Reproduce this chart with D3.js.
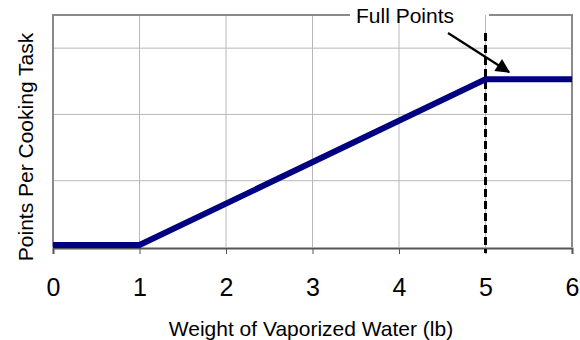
<!DOCTYPE html>
<html>
<head>
<meta charset="utf-8">
<script src="https://cdn.jsdelivr.net/npm/d3@7"></script>
<style>
  html, body { margin: 0; padding: 0; background: #fff; }
  svg { display: block; font-family: "Liberation Sans", Arial, sans-serif; }
</style>
</head>
<body>
<svg id="chart" width="580" height="340"></svg>
<script>
// Scoring curve: points earned vs. weight of water vaporized
const weights = [0, 1, 5, 6];
const points = [0, 0, 2.5, 2.5];
const xTicks = [0, 1, 2, 3, 4, 5, 6];
const yGrid = [1, 2, 3];
const fullPointsWeight = 5;
const calloutLabel = "Full Points";
const xTitle = "Weight of Vaporized Water (lb)";
const yTitle = "Points Per Cooking Task";

const svg = d3.select("#chart");
const plotLeft = 53, plotRight = 572, plotTop = 15, plotBottom = 247;

const x = d3.scaleLinear().domain([0, 6]).range([plotLeft, plotRight]);
const y = d3.scaleLinear().domain([0, 3.5]).range([plotBottom, plotTop]);

// gridlines
svg.append("g").selectAll("line").data(xTicks.slice(1, -1)).join("line")
  .attr("x1", d => x(d)).attr("x2", d => x(d))
  .attr("y1", y(3.5)).attr("y2", y(0))
  .attr("stroke", "#b8b8b8").attr("stroke-width", 1);
svg.append("g").selectAll("line").data(yGrid).join("line")
  .attr("x1", x(0)).attr("x2", x(6))
  .attr("y1", d => y(d)).attr("y2", d => y(d))
  .attr("stroke", "#b8b8b8").attr("stroke-width", 1);

// frame: left, right and top (top is broken by the callout label)
const frame = svg.append("g").attr("stroke", "#8a8a8a").attr("stroke-width", 2).attr("fill", "none");
frame.append("line").attr("x1", x(0)).attr("x2", x(0)).attr("y1", y(3.5) - 1).attr("y2", y(0));
frame.append("line").attr("x1", x(6)).attr("x2", x(6)).attr("y1", y(3.5) - 1).attr("y2", y(0));
frame.append("line").attr("x1", x(0)).attr("x2", 350).attr("y1", y(3.5)).attr("y2", y(3.5));
frame.append("line").attr("x1", 489).attr("x2", x(6) + 1).attr("y1", y(3.5)).attr("y2", y(3.5));

// x axis
const xAxis = svg.append("g").attr("transform", `translate(0,${y(0) + 1})`)
  .call(d3.axisBottom(x).tickValues(xTicks).tickSize(6).tickPadding(0).tickFormat(d3.format("d")));
xAxis.select(".domain").attr("stroke", "#555").attr("stroke-width", 2);
xAxis.selectAll(".tick line").attr("stroke", "#555").attr("stroke-width", 1);
xAxis.selectAll(".tick text")
  .attr("y", 48).attr("dy", null)
  .attr("font-size", 25).attr("fill", "#000")
  .attr("font-family", "Liberation Sans, Arial, sans-serif");

// threshold marker at full-points weight
svg.append("line")
  .attr("x1", x(fullPointsWeight)).attr("x2", x(fullPointsWeight))
  .attr("y1", 33).attr("y2", y(0) + 6)
  .attr("stroke", "#000").attr("stroke-width", 3)
  .attr("stroke-dasharray", "8,4");

// scoring line
const line = d3.line().x((d, i) => x(weights[i])).y(d => y(d) - 2);
svg.append("path").datum(points)
  .attr("d", line)
  .attr("fill", "none")
  .attr("stroke", "#000080")
  .attr("stroke-width", 6)
  .attr("stroke-linejoin", "miter");

// callout
svg.append("text").attr("x", 405).attr("y", 23)
  .attr("text-anchor", "middle").attr("font-size", 21).attr("fill", "#000")
  .text(calloutLabel);

svg.append("defs").append("marker")
  .attr("id", "arrow").attr("viewBox", "0 0 10 10")
  .attr("refX", 9).attr("refY", 5)
  .attr("markerWidth", 7.5).attr("markerHeight", 6.5)
  .attr("markerUnits", "strokeWidth")
  .attr("orient", "auto")
  .append("path").attr("d", "M0,0 L10,5 L0,10 z").attr("fill", "#000");

svg.append("line")
  .attr("x1", 448).attr("y1", 33).attr("x2", 509).attr("y2", 72)
  .attr("stroke", "#000").attr("stroke-width", 2.2)
  .attr("marker-end", "url(#arrow)");

// axis titles
svg.append("text").attr("x", 311).attr("y", 336)
  .attr("text-anchor", "middle").attr("font-size", 21).attr("fill", "#000")
  .text(xTitle);
svg.append("text")
  .attr("transform", `translate(33,147) rotate(-90)`)
  .attr("text-anchor", "middle").attr("font-size", 21).attr("fill", "#000")
  .text(yTitle);
</script>
</body>
</html>
